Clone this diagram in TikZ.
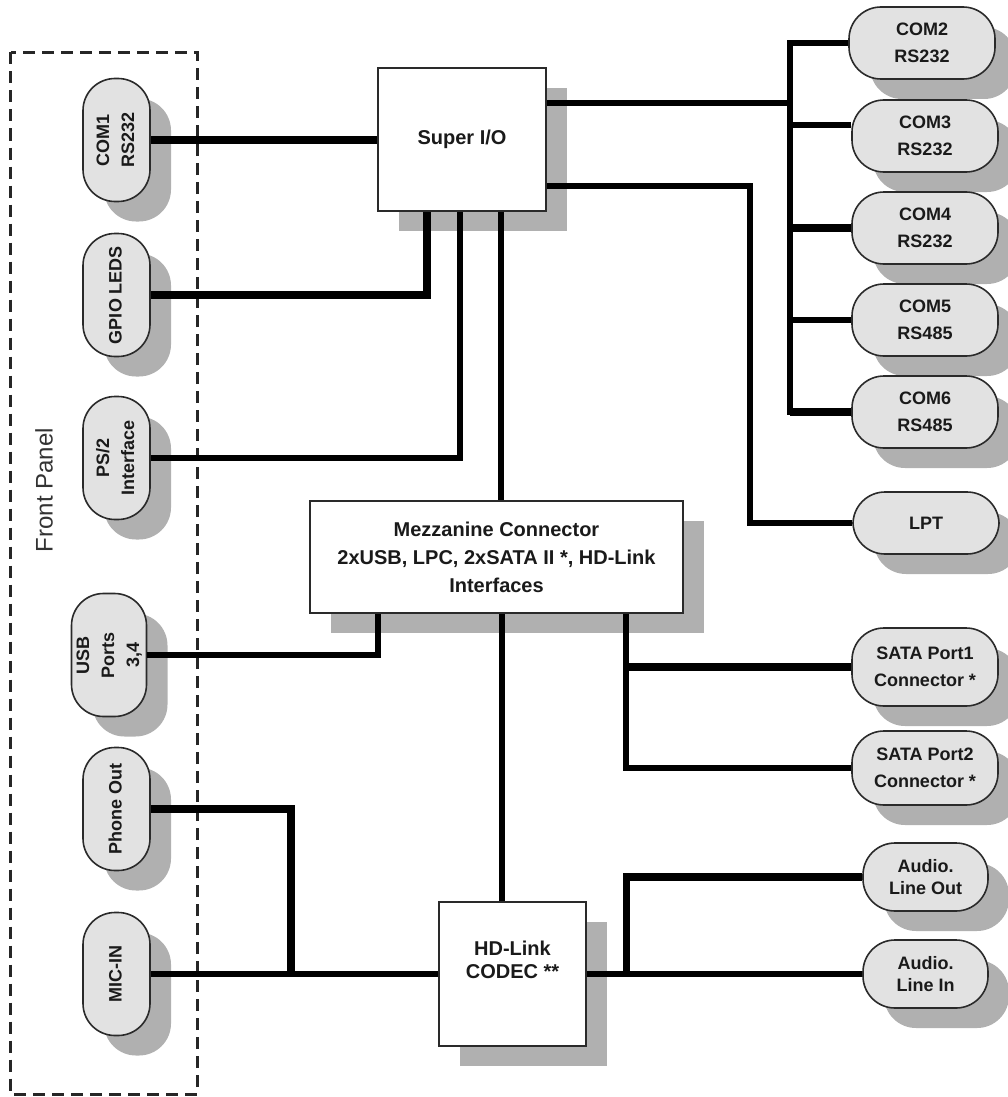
\documentclass[tikz,border=0pt]{standalone}
\usepackage{fontspec}
\setmainfont{Liberation Sans}
\usetikzlibrary{shadows}
\definecolor{pillfill}{HTML}{E2E2E2}
\definecolor{shgray}{HTML}{B0B0B0}
\definecolor{edgec}{HTML}{2A2A2A}
\definecolor{ink}{HTML}{1A1A1A}
\newcommand{\vlines}[1]{\rotatebox{90}{\begin{tabular}{@{}c@{}}#1\end{tabular}}}
\begin{document}
\begin{tikzpicture}[x=1pt,y=-1pt,
  shadowed/.style={general shadow={fill=shgray, shadow xshift=21pt, shadow yshift=-20pt}},
  pill/.style={shadowed, draw=edgec, line width=1.6pt, fill=pillfill, rounded corners=32pt,
    inner sep=0pt, text=ink, align=center},
  lpill/.style={pill, minimum width=67pt, minimum height=123pt,
    font=\fontsize{18}{25}\selectfont\bfseries},
  rpill/.style={pill, minimum width=146pt, minimum height=72pt,
    font=\fontsize{18}{27}\selectfont\bfseries},
  apill/.style={pill, minimum width=125pt, minimum height=68pt,
    font=\fontsize{18}{22}\selectfont\bfseries},
  box/.style={shadowed, draw=edgec, line width=1.3pt, fill=white, inner sep=0pt,
    text=ink, align=center, font=\fontsize{20}{28}\selectfont\bfseries},
  wire/.style={draw=black, line width=5.5pt},
  thickwire/.style={draw=black, line width=7.5pt},
  panelbox/.style={draw=black!85, line width=3pt, dash pattern=on 12pt off 7pt}
]
\useasboundingbox (0,0) rectangle (1007,1097);

% front panel frame
\draw[panelbox] (10.5,52.5) rectangle (197,1094);
\node[rotate=90, font=\fontsize{24}{28}\selectfont, text=black!80] (fp) at (44,490) {Front Panel};

% boxes
\node[box, minimum width=168pt, minimum height=143pt] (sio) at (462,139.5) {Super I/O};
\node[box, minimum width=373pt, minimum height=112pt] (mezz) at (496.5,557)
  {Mezzanine Connector\\2xUSB, LPC, 2xSATA II *, HD-Link\\Interfaces};
\node[box, minimum width=147pt, minimum height=144pt,
  label={[font=\fontsize{20}{23}\selectfont\bfseries, text=ink, align=center, yshift=14pt]center:HD-Link\\CODEC **}]
  (codec) at (512.5,974) {};

% left pills
\node[lpill] (com1) at (116.5,140) {\vlines{COM1\\RS232}};
\node[lpill] (gpio) at (116.5,295) {\vlines{GPIO LEDS}};
\node[lpill] (ps2) at (116.5,458) {\vlines{PS/2\\Interface}};
\node[lpill, minimum width=68pt] (usb) at (109,655) {\vlines{USB\\Ports\\3,4}};
\node[lpill] (phone) at (116.5,809) {\vlines{Phone Out}};
\node[lpill] (mic) at (116.5,974) {\vlines{MIC-IN}};

% right pills
\node[rpill] (com2) at (922,43) {COM2\\RS232};
\node[rpill] (com3) at (925,136) {COM3\\RS232};
\node[rpill] (com4) at (925,228) {COM4\\RS232};
\node[rpill] (com5) at (925,320) {COM5\\RS485};
\node[rpill] (com6) at (925,412) {COM6\\RS485};
\node[rpill, minimum height=62pt] (lpt) at (926,523) {LPT};
\node[rpill, minimum height=78pt] (sata1) at (925,667) {SATA Port1\\Connector *};
\node[rpill, minimum height=74pt] (sata2) at (925,768) {SATA Port2\\Connector *};
\node[apill] (lineout) at (925.5,877) {Audio.\\Line Out};
\node[apill] (linein) at (925.5,974) {Audio.\\Line In};

\coordinate (bus) at (790,0);

% connectors: Super I/O
\draw[thickwire] (com1.east) -- (com1.east -| sio.west);
\draw[thickwire] (gpio.east) -| ([xshift=-35pt]sio.south);
\draw[wire] (ps2.east) -| ([xshift=-2pt]sio.south);
\draw[wire] ([xshift=39pt]sio.south) -- ([xshift=39pt]sio.south |- mezz.north);
\draw[wire] ([yshift=36.5pt]sio.east) -- ([yshift=36.5pt]sio.east -| bus);
\draw[wire] ([yshift=-46.5pt]sio.east) -| ([xshift=-102pt]lpt.west) -- (lpt.west);

% COM bus
\draw[wire] (com2.west) -| (bus |- com6.west) -- (com6.west);
\draw[wire] ([yshift=11pt]com3.west) -- ([yshift=11pt]com3.west -| bus);
\draw[thickwire] (com4.west) -- (com4.west -| bus);
\draw[wire] (com5.west) -- (com5.west -| bus);
\draw[thickwire] (com6.west) -- (com6.west -| bus);

% Mezzanine
\draw[wire] (usb.east) -| ([xshift=-118.5pt]mezz.south);
\draw[wire] ([xshift=5.5pt]mezz.south) -- ([xshift=5.5pt]mezz.south |- codec.north);
\draw[wire] ([xshift=129.5pt]mezz.south) |- (sata2.west);
\draw[thickwire] (sata1.west) -- ([xshift=129.5pt]mezz.south |- sata1.west);

% CODEC
\draw[wire] (codec.east) -- (linein.west);
\draw[thickwire] ([xshift=40pt]codec.east) |- (lineout.west);
\draw[wire] (mic.east) -- (codec.west);
\draw[thickwire] (phone.east) -| ([xshift=140pt]mic.east);
\end{tikzpicture}
\end{document}
